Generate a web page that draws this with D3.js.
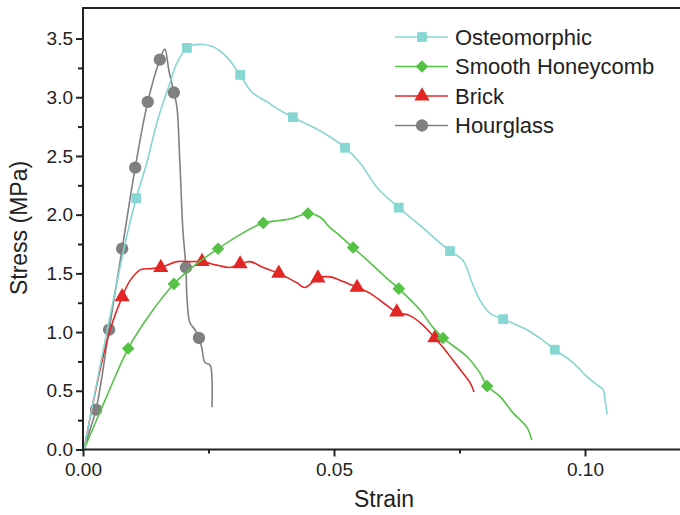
<!DOCTYPE html>
<html>
<head>
<meta charset="utf-8">
<script src="https://cdn.jsdelivr.net/npm/d3@7"></script>
<style>
  body { margin: 0; background: #fff; }
  svg { display: block; font-family: "Liberation Sans", Arial, sans-serif; }
</style>
</head>
<body>
<div class="canvas"></div>
<script>
const seriesNames = ["Osteomorphic", "Smooth Honeycomb", "Brick", "Hourglass"];
const seriesColours = ["#86d6d3", "#55c246", "#e22626", "#808080"];
const seriesShapes = ["square", "diamond", "triangle", "circle"];

// curves: [strain, stress (MPa)]
const osteoCurve = [
  [0.0002, 0.0], [0.0046, 0.97], [0.0090, 1.87], [0.0106, 2.14], [0.0127, 2.44],
  [0.0149, 2.81], [0.0173, 3.12], [0.0187, 3.29], [0.0207, 3.42], [0.0229, 3.45],
  [0.0259, 3.43], [0.0287, 3.34], [0.0313, 3.19], [0.0337, 3.04], [0.0367, 2.96],
  [0.0392, 2.89], [0.0418, 2.83], [0.0478, 2.70], [0.0522, 2.57], [0.0552, 2.44],
  [0.0586, 2.23], [0.0629, 2.06], [0.0671, 1.91], [0.0711, 1.76], [0.0731, 1.69],
  [0.0757, 1.61], [0.0775, 1.42], [0.0791, 1.27], [0.0811, 1.16], [0.0837, 1.11],
  [0.0884, 1.02], [0.0916, 0.93], [0.0940, 0.85], [0.0976, 0.74], [0.1004, 0.62],
  [0.1024, 0.55], [0.1036, 0.51], [0.1040, 0.42], [0.1044, 0.30]
];
const osteoMarks = [
  [0.0106, 2.14], [0.0207, 3.42], [0.0313, 3.19], [0.0418, 2.83], [0.0522, 2.57],
  [0.0629, 2.06], [0.0731, 1.69], [0.0837, 1.11], [0.0940, 0.85]
];

const honeyCurve = [
  [0.0002, 0.0], [0.0044, 0.42], [0.0090, 0.86], [0.0133, 1.15], [0.0181, 1.41],
  [0.0223, 1.57], [0.0269, 1.71], [0.0313, 1.83], [0.0359, 1.93], [0.0392, 1.95],
  [0.0418, 1.97], [0.0448, 2.01], [0.0472, 1.98], [0.0492, 1.89], [0.0512, 1.82],
  [0.0538, 1.72], [0.0572, 1.59], [0.0602, 1.47], [0.0629, 1.37], [0.0671, 1.19],
  [0.0697, 1.04], [0.0717, 0.95], [0.0765, 0.79], [0.0791, 0.65], [0.0805, 0.54],
  [0.0831, 0.45], [0.0857, 0.31], [0.0884, 0.19], [0.0894, 0.08]
];
const honeyMarks = [
  [0.0090, 0.86], [0.0181, 1.41], [0.0269, 1.71], [0.0359, 1.93], [0.0448, 2.01],
  [0.0538, 1.72], [0.0629, 1.37], [0.0717, 0.95], [0.0805, 0.54]
];

const brickCurve = [
  [0.0002, 0.0], [0.0034, 0.68], [0.0054, 1.02], [0.0078, 1.30], [0.0094, 1.44],
  [0.0114, 1.53], [0.0133, 1.54], [0.0155, 1.55], [0.0187, 1.60], [0.0213, 1.60],
  [0.0237, 1.60], [0.0267, 1.57], [0.0293, 1.55], [0.0313, 1.58], [0.0333, 1.60],
  [0.0359, 1.55], [0.0390, 1.50], [0.0426, 1.42], [0.0442, 1.38], [0.0468, 1.46],
  [0.0492, 1.47], [0.0518, 1.43], [0.0546, 1.38], [0.0572, 1.33], [0.0598, 1.25],
  [0.0625, 1.17], [0.0651, 1.14], [0.0677, 1.06], [0.0701, 0.95], [0.0717, 0.87],
  [0.0737, 0.76], [0.0757, 0.65], [0.0771, 0.57], [0.0779, 0.49]
];
const brickMarks = [
  [0.0078, 1.30], [0.0155, 1.55], [0.0237, 1.60], [0.0313, 1.58], [0.0390, 1.50],
  [0.0468, 1.46], [0.0546, 1.38], [0.0625, 1.17], [0.0701, 0.95]
];

const hourCurve = [
  [0.0002, 0.0], [0.0014, 0.17], [0.0026, 0.34], [0.0052, 1.02], [0.0078, 1.71],
  [0.0104, 2.40], [0.0129, 2.96], [0.0153, 3.32], [0.0163, 3.41], [0.0171, 3.23],
  [0.0181, 3.04], [0.0187, 2.92], [0.0193, 2.44], [0.0199, 1.87], [0.0205, 1.55],
  [0.0207, 1.30], [0.0213, 1.08], [0.0223, 1.02], [0.0231, 0.95], [0.0237, 0.86],
  [0.0243, 0.74], [0.0253, 0.72], [0.0257, 0.59], [0.0257, 0.36]
];
const hourMarks = [
  [0.0026, 0.34], [0.0052, 1.02], [0.0078, 1.71], [0.0104, 2.40], [0.0129, 2.96],
  [0.0153, 3.32], [0.0181, 3.04], [0.0205, 1.55], [0.0231, 0.95]
];

const xTicks = [0, 0.05, 0.1];
const xMinorTicks = [0.025, 0.075];
const yTicks = [0, 0.5, 1.0, 1.5, 2.0, 2.5, 3.0, 3.5];
const yMinorTicks = [0.25, 0.75, 1.25, 1.75, 2.25, 2.75, 3.25];

const curves = [osteoCurve, honeyCurve, brickCurve, hourCurve];
const marks = [osteoMarks, honeyMarks, brickMarks, hourMarks];

const dims = { w: 680, h: 515 };
const plot = { left: 83, top: 8, bottom: 449.5 };

const svg = d3
  .select(".canvas")
  .append("svg")
  .attr("width", dims.w)
  .attr("height", dims.h);

const x = d3.scaleLinear().domain([0, 0.12]).range([plot.left, plot.left + 0.12 * 5020]);
const y = d3.scaleLinear().domain([0, 3.76]).range([plot.bottom, plot.top]);

const line = d3
  .line()
  .x(d => x(d[0]))
  .y(d => y(d[1]))
  .curve(d3.curveCatmullRom.alpha(0.5));

const symbolFor = {
  square: d3.symbol().type(d3.symbolSquare).size(95),
  diamond: d3.symbol().type(d3.symbolSquare).size(80),
  triangle: d3.symbol().type(d3.symbolTriangle).size(100),
  circle: d3.symbol().type(d3.symbolCircle).size(120)
};
// diamond = square turned 45 degrees
const rot = shape => (shape === "diamond" ? " rotate(45)" : "");

// series, drawn last-in-legend first
const graph = svg.append("g");
d3.range(seriesNames.length).reverse().forEach(i => {
  const g = graph.append("g");
  g.append("path")
    .datum(curves[i])
    .attr("fill", "none")
    .attr("stroke", seriesColours[i])
    .attr("stroke-width", 1.6)
    .attr("d", line);
  g.selectAll("path.mark")
    .data(marks[i])
    .enter()
    .append("path")
    .attr("class", "mark")
    .attr("transform", d => `translate(${x(d[0])}, ${y(d[1])})${rot(seriesShapes[i])}`)
    .attr("fill", seriesColours[i])
    .attr("d", symbolFor[seriesShapes[i]]());
});

// axes
const xAxis = d3.axisBottom(x).tickValues(xTicks).tickFormat(d3.format(".2f")).tickSize(7).tickPadding(6);
const xMinor = d3.axisBottom(x).tickValues(xMinorTicks).tickFormat("").tickSize(4);
const yAxis = d3.axisLeft(y).tickValues(yTicks).tickFormat(d3.format(".1f")).tickSize(7).tickPadding(3);
const yMinor = d3.axisLeft(y).tickValues(yMinorTicks).tickFormat("").tickSize(5);

const styleAxis = g => {
  g.select(".domain").remove();
  g.selectAll("line").attr("stroke", "#222").attr("stroke-width", 2);
  g.selectAll("text").attr("fill", "#222").style("font-size", "19px");
};

svg.append("g").attr("transform", `translate(0, ${plot.bottom})`).call(xAxis).call(styleAxis);
svg.append("g").attr("transform", `translate(0, ${plot.bottom})`).call(xMinor).call(styleAxis);
svg.append("g").attr("transform", `translate(${plot.left}, 0)`).call(yAxis).call(styleAxis);
svg.append("g").attr("transform", `translate(${plot.left}, 0)`).call(yMinor).call(styleAxis);

// frame: left, bottom and top lines (right side is cut off)
svg.append("path")
  .attr("d", `M${dims.w},${plot.top}H${plot.left}V${plot.bottom}H${dims.w}`)
  .attr("fill", "none")
  .attr("stroke", "#222")
  .attr("stroke-width", 2);

svg.append("text")
  .attr("x", 384)
  .attr("y", 507)
  .attr("text-anchor", "middle")
  .attr("fill", "#222")
  .style("font-size", "23px")
  .text("Strain");

svg.append("text")
  .attr("transform", `translate(27, 228) rotate(-90)`)
  .attr("text-anchor", "middle")
  .attr("fill", "#222")
  .style("font-size", "23px")
  .text("Stress (MPa)");

// legend
const legendGroup = svg.append("g").attr("transform", "translate(395, 37)");
seriesNames.forEach((name, i) => {
  const row = legendGroup.append("g").attr("transform", `translate(0, ${i * 29.5})`);
  row.append("line")
    .attr("x1", 0).attr("x2", 53)
    .attr("stroke", seriesColours[i])
    .attr("stroke-width", 1.6);
  row.append("path")
    .attr("transform", `translate(27, 0)${rot(seriesShapes[i])}`)
    .attr("fill", seriesColours[i])
    .attr("d", symbolFor[seriesShapes[i]]());
  row.append("text")
    .attr("x", 60)
    .attr("dy", "0.35em")
    .attr("fill", "#222")
    .style("font-size", "22px")
    .text(name);
});
</script>
</body>
</html>
